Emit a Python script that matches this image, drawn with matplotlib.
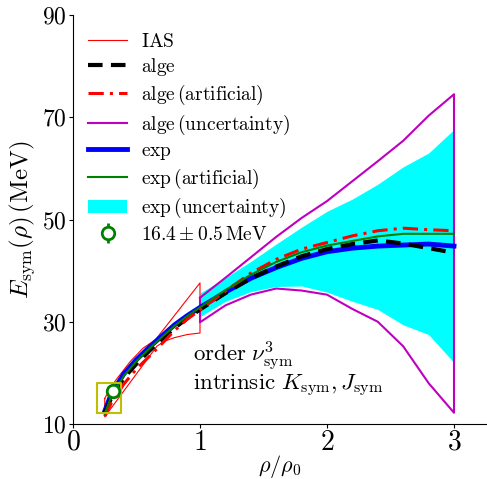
import matplotlib
matplotlib.use("Agg")
import matplotlib.pyplot as plt
import numpy as np

plt.rcParams['font.family'] = 'serif'
plt.rcParams['font.serif'] = ['cmr10']
plt.rcParams['mathtext.fontset'] = 'cm'
plt.rcParams['axes.formatter.use_mathtext'] = True
plt.rcParams['axes.unicode_minus'] = False

# density grid (rho/rho0)
x_low = [0.25, 0.3, 0.4, 0.5, 0.6, 0.7, 0.8, 0.9, 1.0, 1.2, 1.4, 1.6, 1.8,
         2.0, 2.2, 2.4, 2.6, 2.8, 3.0]
exp_y = [12.5, 15.8, 19.8, 22.6, 25.0, 27.2, 29.4, 31.2, 32.8, 35.8, 38.5,
         40.6, 42.4, 43.7, 44.4, 44.8, 45.0, 45.2, 44.8]
alge_y = [12.2, 15.0, 19.0, 21.8, 24.3, 26.6, 28.8, 30.7, 32.4, 35.6, 38.5,
          40.8, 42.8, 44.2, 45.2, 45.9, 45.3, 44.4, 43.5]
exp_art_y = [12.0, 15.3, 19.4, 22.3, 24.7, 27.0, 29.2, 31.1, 32.8, 36.2,
             39.2, 41.7, 43.6, 44.9, 45.8, 46.7, 47.2, 47.2, 47.2]
alge_art_y = [11.5, 14.0, 17.8, 20.8, 23.2, 25.7, 28.3, 30.5, 32.3, 36.0,
              39.5, 42.2, 44.2, 45.5, 46.8, 47.8, 48.3, 48.0, 47.8]

x_high = [1.0, 1.2, 1.4, 1.6, 1.8, 2.0, 2.2, 2.4, 2.6, 2.8, 3.0]
exp_unc_hi = [35.6, 38.6, 41.8, 45.2, 48.5, 51.6, 54.0, 56.9, 60.3, 63.0, 67.6]
exp_unc_lo = [31.0, 34.0, 35.9, 36.9, 37.0, 35.8, 34.0, 32.4, 29.4, 27.5, 22.0]
alge_unc_hi = [34.7, 38.6, 42.6, 46.6, 50.3, 53.6, 57.5, 61.4, 65.4, 70.3, 74.5]
alge_unc_lo = [29.9, 33.2, 35.3, 36.5, 36.1, 35.3, 32.5, 30.0, 25.2, 18.0, 12.2]

# IAS band outline
ias_up_x = [0.25, 0.3, 0.35, 0.45, 0.55, 0.65, 1.0]
ias_up_y = [15.0, 17.3, 19.0, 22.2, 24.8, 26.5, 37.6]
ias_lo_x = [0.25, 0.66, 0.72, 0.8, 0.9, 1.0]
ias_lo_y = [11.4, 25.2, 26.2, 26.9, 27.5, 27.8]

# data point
pt_x = [0.3125]
pt_y = [16.4]
pt_err = [0.5]
box_x = [0.1875, 0.375]
box_y = [12.1, 18.1]

fig = plt.figure(figsize=(4.87, 4.79), dpi=100)
ax = fig.add_axes([73/487, 55/479, 414/487, 409/479])

fill = ax.fill_between(x_high, exp_unc_lo, exp_unc_hi, color='cyan', lw=0,
                       zorder=1, label=r'$\mathrm{exp\,(uncertainty)}$')

ias_x = ias_up_x + ias_lo_x[::-1] + [ias_up_x[0]]
ias_y = ias_up_y + ias_lo_y[::-1] + [ias_up_y[0]]
l_ias, = ax.plot(ias_x, ias_y, color='red', lw=0.8, zorder=2,
                 label=r'$\mathrm{IAS}$')

mag_x = x_high + x_high[::-1] + [x_high[0]]
mag_y = alge_unc_hi + alge_unc_lo[::-1] + [alge_unc_hi[0]]
l_mag, = ax.plot(mag_x, mag_y, color='m', lw=1.5, zorder=2,
                 label=r'$\mathrm{alge\,(uncertainty)}$')

l_exp, = ax.plot(x_low, exp_y, color='blue', lw=3.5, zorder=3,
                 label=r'$\mathrm{exp}$')
l_alge, = ax.plot(x_low, alge_y, color='black', lw=3, ls=(0, (3.5, 2)),
                  zorder=4, label=r'$\mathrm{alge}$')
l_alge_art, = ax.plot(x_low, alge_art_y, color='red', lw=2.2,
                      ls=(0, (5, 2, 1, 2)), zorder=5,
                      label=r'$\mathrm{alge\,(artificial)}$')
l_exp_art, = ax.plot(x_low, exp_art_y, color='green', lw=1.5, zorder=6,
                     label=r'$\mathrm{exp\,(artificial)}$')

ax.plot([box_x[0], box_x[1], box_x[1], box_x[0], box_x[0]],
        [box_y[0], box_y[0], box_y[1], box_y[1], box_y[0]],
        color='y', lw=1.5, zorder=7)

eb = ax.errorbar(pt_x, pt_y, yerr=pt_err, fmt='o', color='green', mfc='white',
                 mec='green', ms=9, mew=2, elinewidth=2, zorder=8,
                 label=r'$16.4\pm0.5\,\mathrm{MeV}$')

ax.text(0.945, 22.2, r'$\mathrm{order}\ \nu_{\rm sym}^3$', fontsize=16.5,
        va='baseline')
ax.text(0.945, 16.6, r'$\mathrm{intrinsic}\ K_{\rm sym},J_{\rm sym}$',
        fontsize=16.5, va='baseline')

ax.set_xlim(0, 414/127)
ax.set_ylim(10, 90)
ax.set_xticks([0, 1, 2, 3])
ax.set_yticks([10, 30, 50, 70, 90])
ax.tick_params(axis='x', labelsize=20, pad=1.0, length=3)
ax.tick_params(axis='y', labelsize=17, pad=1.5, length=3)
ax.spines['right'].set_visible(False)
ax.spines['top'].set_visible(False)
ax.set_xlabel(r'$\rho/\rho_0$', fontsize=16, labelpad=-2)
ax.set_ylabel(r'$E_{\rm sym}(\rho)\,(\mathrm{MeV})$', fontsize=18, labelpad=4)

handles = [l_ias, l_alge, l_alge_art, l_mag, l_exp, l_exp_art, fill, eb]
ax.legend(handles=handles, loc='upper left', frameon=False, fontsize=14,
          handlelength=2.0, handletextpad=0.7, labelspacing=0.27,
          bbox_to_anchor=(-0.005, 1.0))

fig.savefig('out.png', dpi=100)
